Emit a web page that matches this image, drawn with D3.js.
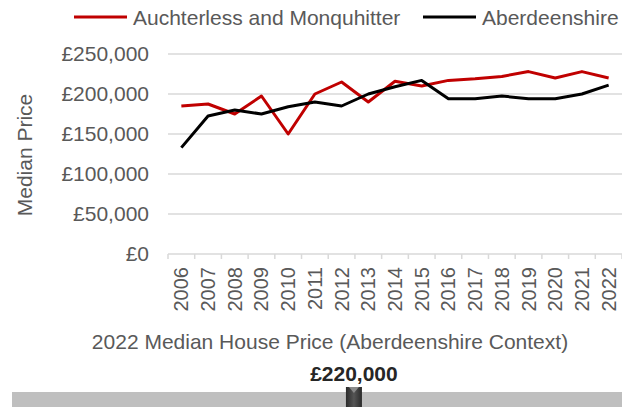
<!DOCTYPE html>
<html>
<head>
<meta charset="utf-8">
<script src="https://cdn.jsdelivr.net/npm/d3@7"></script>
<style>
  body { margin: 0; background: #fff; }
  text { font-family: "Liberation Sans", Arial, sans-serif; }
</style>
</head>
<body>
<div id="content"></div>
<script>
/* Chart data */
const YEARS = ["2006", "2007", "2008", "2009", "2010", "2011", "2012", "2013", "2014",
               "2015", "2016", "2017", "2018", "2019", "2020", "2021", "2022"];
const LOCAL = [185000, 187500, 175000, 197500, 150000, 200000, 215000, 190000, 216000,
               210000, 217000, 219000, 222000, 228000, 220000, 228000, 220000];
const SHIRE = [133000, 172500, 180000, 175000, 184000, 190000, 185000, 200000, 209000,
               217000, 194000, 194000, 197500, 194000, 194000, 200000, 211000];
const SERIES_NAMES = ["Auchterless and Monquhitter", "Aberdeenshire"];
const Y_TICKS = [0, 50000, 100000, 150000, 200000, 250000];
const CONTEXT_VALUE = 220000;
const CONTEXT_RANGE = [95000, 318000];

const WIDTH = 622;
const HEIGHT = 407;
const PLOT = {left: 168, right: 622, top: 54, bottom: 254};
const GREY = "#595959";
const COLORS = ["#c00000", "#000000"];

const svg = d3.select("#content").append("svg")
    .attr("width", WIDTH).attr("height", HEIGHT);

const x = d3.scaleBand().domain(YEARS).range([PLOT.left, PLOT.right]);
const y = d3.scaleLinear().domain([0, 250000]).range([PLOT.bottom, PLOT.top]);

// gridlines
svg.append("g").selectAll("line")
    .data(Y_TICKS.filter((d) => d > 0))
    .enter().append("line")
    .attr("x1", PLOT.left).attr("x2", PLOT.right)
    .attr("y1", (d) => y(d)).attr("y2", (d) => y(d))
    .attr("stroke", "#d9d9d9").attr("stroke-width", 1.5);

// y axis labels
svg.append("g").selectAll("text")
    .data(Y_TICKS)
    .enter().append("text")
    .attr("x", 149).attr("y", (d) => y(d) + 7)
    .attr("text-anchor", "end")
    .attr("fill", GREY).attr("font-size", 21)
    .text((d) => "£" + d3.format(",")(d));

svg.append("text")
    .attr("transform", "translate(32,155) rotate(-90)")
    .attr("text-anchor", "middle")
    .attr("fill", GREY).attr("font-size", 21)
    .text("Median Price");

// x axis
const xAxis = svg.append("g");
xAxis.append("line")
    .attr("x1", PLOT.left).attr("x2", PLOT.right)
    .attr("y1", PLOT.bottom).attr("y2", PLOT.bottom)
    .attr("stroke", "#d9d9d9").attr("stroke-width", 1.5);
xAxis.selectAll("line.tick")
    .data(YEARS.concat([null]))
    .enter().append("line")
    .attr("class", "tick")
    .attr("x1", (d, i) => PLOT.left + i * x.bandwidth())
    .attr("x2", (d, i) => PLOT.left + i * x.bandwidth())
    .attr("y1", PLOT.bottom).attr("y2", PLOT.bottom + 5)
    .attr("stroke", "#d9d9d9").attr("stroke-width", 1.5);
xAxis.selectAll("text")
    .data(YEARS)
    .enter().append("text")
    .attr("transform", (d) => "translate(" + (x(d) + x.bandwidth() / 2 + 7) + ",267) rotate(-90)")
    .attr("text-anchor", "end")
    .attr("fill", GREY).attr("font-size", 20)
    .text((d) => d);

// lines
const line = d3.line()
    .x((d, i) => x(YEARS[i]) + x.bandwidth() / 2)
    .y((d) => y(d));

[LOCAL, SHIRE].forEach((values, k) => {
    svg.append("path")
        .datum(values)
        .attr("d", line)
        .attr("fill", "none")
        .attr("stroke", COLORS[k])
        .attr("stroke-width", 3)
        .attr("stroke-linejoin", "round");
});

// legend
const legendX = [74, 423];
SERIES_NAMES.forEach((name, k) => {
    svg.append("line")
        .attr("x1", legendX[k]).attr("x2", legendX[k] + 53)
        .attr("y1", 17).attr("y2", 17)
        .attr("stroke", COLORS[k]).attr("stroke-width", 3);
    svg.append("text")
        .attr("x", legendX[k] + 59).attr("y", 25)
        .attr("fill", GREY).attr("font-size", 21)
        .text(name);
});

// context bar
svg.append("text")
    .attr("x", 330).attr("y", 349)
    .attr("text-anchor", "middle")
    .attr("fill", GREY).attr("font-size", 21)
    .text("2022 Median House Price (Aberdeenshire Context)");

const cx = d3.scaleLinear().domain(CONTEXT_RANGE).range([12, 622]);

svg.append("rect")
    .attr("x", 12).attr("y", 392)
    .attr("width", 610).attr("height", 15)
    .attr("fill", "#bfbfbf");

const grad = svg.append("defs").append("linearGradient")
    .attr("id", "marker").attr("x1", 0).attr("x2", 1);
grad.append("stop").attr("offset", 0).attr("stop-color", "#2a2a2a");
grad.append("stop").attr("offset", 0.5).attr("stop-color", "#555555");
grad.append("stop").attr("offset", 1).attr("stop-color", "#2a2a2a");

const mx = cx(CONTEXT_VALUE);
svg.append("rect")
    .attr("x", mx - 8).attr("y", 387)
    .attr("width", 16).attr("height", 20)
    .attr("fill", "url(#marker)");
svg.append("path")
    .attr("d", "M" + (mx - 5) + ",387L" + (mx + 5) + ",387L" + mx + ",393Z")
    .attr("fill", "#8a8a8a");

svg.append("text")
    .attr("x", mx).attr("y", 381)
    .attr("text-anchor", "middle")
    .attr("fill", "#262626").attr("font-size", 21).attr("font-weight", "bold")
    .text("£" + d3.format(",")(CONTEXT_VALUE));
</script>
</body>
</html>
